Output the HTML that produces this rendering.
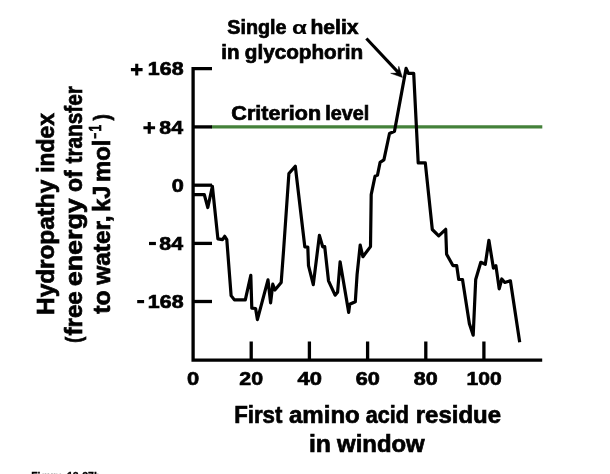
<!DOCTYPE html>
<html>
<head>
<meta charset="utf-8">
<title>Hydropathy plot</title>
<style>
html,body{margin:0;padding:0;background:#fff;}
body{width:610px;height:474px;overflow:hidden;font-family:"Liberation Sans",sans-serif;}
svg{display:block;}
text{font-family:"Liberation Sans",sans-serif;font-weight:bold;fill:#000;}
.reg{font-weight:normal;}
</style>
</head>
<body>
<svg width="610" height="474" viewBox="0 0 610 474">
<rect x="0" y="0" width="610" height="474" fill="#ffffff"/>

<!-- criterion line -->
<line x1="211.5" y1="126.9" x2="542.3" y2="126.9" stroke="#44813a" stroke-width="3.4"/>

<!-- axes -->
<path d="M212,68.7 H193.1 V360.2 H542.2" fill="none" stroke="#000" stroke-width="3.3" stroke-linejoin="miter"/>
<!-- y ticks -->
<g stroke="#000" stroke-width="3.3">
<line x1="193" y1="126.9" x2="212" y2="126.9"/>
<line x1="193" y1="185.2" x2="212" y2="185.2"/>
<line x1="193" y1="243.4" x2="212" y2="243.4"/>
<line x1="193" y1="301.5" x2="212" y2="301.5"/>
<!-- x ticks -->
<line x1="251.2" y1="341.5" x2="251.2" y2="360"/>
<line x1="309.4" y1="341.5" x2="309.4" y2="360"/>
<line x1="367.6" y1="341.5" x2="367.6" y2="360"/>
<line x1="425.8" y1="341.5" x2="425.8" y2="360"/>
<line x1="483.9" y1="341.5" x2="483.9" y2="360"/>
</g>

<!-- data curve -->
<polyline fill="none" stroke="#000" stroke-width="3.2" stroke-linejoin="round" stroke-linecap="butt" points="
193,194.6 204.3,194.6 207.8,207.5 212.4,186.3 217.9,238.9 222.5,239.6 224.7,236.3 226.8,239.6
231.1,295.6 234.4,299.9 245.3,299.9 250.8,275.3 251.8,308.2 255.6,308.5 257.4,319.6 268,279.9
270.6,302.8 272.8,284.2 274.9,290 281.2,282.4 283.6,250 288.9,173.5 295.3,166.2 304.8,246.8
307.8,247.1 308.5,265.6 313.3,284.6 319.4,235.4 322.7,246.8 324.7,246.5 328.5,280.8 335.1,295.2
337.6,292.2 340.1,261.8 348.7,312.4 349.7,304.3 355.3,301.8 357.1,274.4 360.2,245 362.9,256.7
370.5,246.6 371.2,194.6 375,176.3 377.5,175.1 380.1,162.4 383.9,159.9 389.5,133.5 394.5,131.2
406.1,68.4 408.4,73.4 413.7,73.4 418.2,162.9 425.3,162.9 432.3,229.5 438.7,235.8 445.7,229.3
446.6,254.2 452.9,265.6 456.7,265.6 458.7,279.5 462.5,279.5 469.4,323.8 473.2,335.2 475.7,279.5
480.8,262.3 485.3,264.3 488.9,240.3 493.4,268.1 495.9,265.6 499.2,288.9 501.8,279 504.8,282.5
510.4,280.8 519.7,342.2"/>

<!-- arrow -->
<line x1="366.4" y1="38.5" x2="398.9" y2="73.1" stroke="#000" stroke-width="3.1"/>
<path d="M402.4,77.4 L390.7,73.3 Q395.6,73.5 397.6,72.6 Q398.3,70.4 398.8,66.3 Z" fill="#000" stroke="#000" stroke-width="0.5" stroke-linejoin="round"/>

<g style="opacity:0.999">
<text transform="translate(227.36,34.00) scale(0.9972,1)" font-size="19.8" font-weight="bold" fill="#000" stroke="#000" stroke-width="0.7">Single</text>
<text transform="translate(292.06,34.00) scale(1.3570,1)" font-size="18" font-weight="normal" fill="#000" stroke="#000" stroke-width="0.15">α</text>
<text transform="translate(310.40,34.00) scale(1.0664,1)" font-size="19.8" font-weight="bold" fill="#000" stroke="#000" stroke-width="0.7">helix</text>
<text transform="translate(221.22,59.20) scale(1.0383,1)" font-size="19.8" font-weight="bold" fill="#000" stroke="#000" stroke-width="0.7">in</text>
<text transform="translate(244.74,59.20) scale(1.0462,1)" font-size="19.8" font-weight="bold" fill="#000" stroke="#000" stroke-width="0.7">glycophorin</text>
<text transform="translate(231.32,120.30) scale(1.0882,1)" font-size="19.8" font-weight="bold" fill="#000" stroke="#000" stroke-width="0.7">Criterion</text>
<text transform="translate(325.16,120.30) scale(1.0004,1)" font-size="19.8" font-weight="bold" fill="#000" stroke="#000" stroke-width="0.7">level</text>
<path d="M130.90,68.05H135.20V63.75H138.30V68.05H142.60V71.15H138.30V75.45H135.20V71.15H130.90Z" fill="#000"/>
<text transform="translate(147.85,75.40) scale(1.1151,1)" font-size="19.2" font-weight="bold" fill="#000" stroke="#000" stroke-width="0.7">168</text>
<path d="M143.40,126.25H147.70V121.95H150.80V126.25H155.10V129.35H150.80V133.65H147.70V129.35H143.40Z" fill="#000"/>
<text transform="translate(159.30,133.60) scale(1.1131,1)" font-size="19.2" font-weight="bold" fill="#000" stroke="#000" stroke-width="0.7">84</text>
<text transform="translate(171.73,191.90) scale(1.1303,1)" font-size="19.2" font-weight="bold" fill="#000" stroke="#000" stroke-width="0.7">0</text>
<rect x="149.00" y="241.90" width="6.90" height="3.20" fill="#000"/>
<text transform="translate(159.30,250.10) scale(1.1131,1)" font-size="19.2" font-weight="bold" fill="#000" stroke="#000" stroke-width="0.7">84</text>
<rect x="137.20" y="300.00" width="6.90" height="3.20" fill="#000"/>
<text transform="translate(147.85,308.20) scale(1.1151,1)" font-size="19.2" font-weight="bold" fill="#000" stroke="#000" stroke-width="0.7">168</text>
<text transform="translate(186.92,385.40) scale(1.1405,1)" font-size="19.2" font-weight="bold" fill="#000" stroke="#000" stroke-width="0.7">0</text>
<text transform="translate(239.34,385.40) scale(1.1132,1)" font-size="19.2" font-weight="bold" fill="#000" stroke="#000" stroke-width="0.7">20</text>
<text transform="translate(297.57,385.40) scale(1.1405,1)" font-size="19.2" font-weight="bold" fill="#000" stroke="#000" stroke-width="0.7">40</text>
<text transform="translate(355.68,385.40) scale(1.1304,1)" font-size="19.2" font-weight="bold" fill="#000" stroke="#000" stroke-width="0.7">60</text>
<text transform="translate(413.79,385.40) scale(1.1203,1)" font-size="19.2" font-weight="bold" fill="#000" stroke="#000" stroke-width="0.7">80</text>
<text transform="translate(466.57,385.40) scale(1.0960,1)" font-size="19.2" font-weight="bold" fill="#000" stroke="#000" stroke-width="0.7">100</text>
<text transform="translate(234.13,423.30) scale(0.9506,1)" font-size="23.4" font-weight="bold" fill="#000" stroke="#000" stroke-width="0.7">First</text>
<text transform="translate(288.94,423.30) scale(1.0289,1)" font-size="23.4" font-weight="bold" fill="#000" stroke="#000" stroke-width="0.7">amino</text>
<text transform="translate(365.78,423.30) scale(0.9232,1)" font-size="23.4" font-weight="bold" fill="#000" stroke="#000" stroke-width="0.7">acid</text>
<text transform="translate(415.80,423.30) scale(1.0244,1)" font-size="23.4" font-weight="bold" fill="#000" stroke="#000" stroke-width="0.7">residue</text>
<text transform="translate(308.94,452.00) scale(1.0583,1)" font-size="23.4" font-weight="bold" fill="#000" stroke="#000" stroke-width="0.7">in</text>
<text transform="translate(337.12,452.00) scale(1.0210,1)" font-size="23.4" font-weight="bold" fill="#000" stroke="#000" stroke-width="0.7">window</text>
<text transform="translate(53.70,314.88) rotate(-90) scale(1.0222,1)" font-size="23.8" font-weight="bold" fill="#000" stroke="#000" stroke-width="0.7">Hydropathy</text>
<text transform="translate(53.70,172.76) rotate(-90) scale(0.9594,1)" font-size="23.8" font-weight="bold" fill="#000" stroke="#000" stroke-width="0.7">index</text>
<text transform="translate(80.50,342.81) rotate(-90) scale(0.8163,1)" font-size="22" font-weight="bold" fill="#000" stroke="#000" stroke-width="0.7">(</text>
<text transform="translate(82.40,335.47) rotate(-90) scale(1.0110,1)" font-size="23.8" font-weight="bold" fill="#000" stroke="#000" stroke-width="0.7">free</text>
<text transform="translate(82.40,286.18) rotate(-90) scale(1.1271,1)" font-size="23.8" font-weight="bold" fill="#000" stroke="#000" stroke-width="0.7">energy</text>
<text transform="translate(82.40,192.08) rotate(-90) scale(0.9668,1)" font-size="23.8" font-weight="bold" fill="#000" stroke="#000" stroke-width="0.7">of</text>
<text transform="translate(82.40,163.45) rotate(-90) scale(0.8737,1)" font-size="23.8" font-weight="bold" fill="#000" stroke="#000" stroke-width="0.7">transfer</text>
<text transform="translate(110.10,313.85) rotate(-90) scale(1.0437,1)" font-size="23.8" font-weight="bold" fill="#000" stroke="#000" stroke-width="0.7">to</text>
<text transform="translate(110.10,284.78) rotate(-90) scale(1.0266,1)" font-size="23.8" font-weight="bold" fill="#000" stroke="#000" stroke-width="0.7">water,</text>
<text transform="translate(110.10,211.69) rotate(-90) scale(0.9813,1)" font-size="23.8" font-weight="bold" fill="#000" stroke="#000" stroke-width="0.7">kJ</text>
<text transform="translate(110.10,181.89) rotate(-90) scale(0.9977,1)" font-size="23.8" font-weight="bold" fill="#000" stroke="#000" stroke-width="0.7">mol</text>
<text transform="translate(99.80,138.80) rotate(-90) scale(0.6829,1)" font-size="15" font-weight="bold" fill="#000" stroke="#000" stroke-width="0.7">−</text>
<text transform="translate(101.20,131.49) rotate(-90) scale(0.7206,1)" font-size="16.4" font-weight="bold" fill="#000" stroke="#000" stroke-width="0.7">1</text>
<text transform="translate(109.40,120.55) rotate(-90) scale(0.8429,1)" font-size="22.5" font-weight="bold" fill="#000" stroke="#000" stroke-width="0.7">)</text>
<text transform="translate(31.24,479.60) scale(0.9511,1)" font-size="11" font-weight="bold" fill="#000" stroke="#000" stroke-width="0.3">Figure</text>
<text transform="translate(66.98,479.60) scale(0.9613,1)" font-size="11" font-weight="bold" fill="#000" stroke="#000" stroke-width="0.3">12-27b</text>
</g>
</svg>
</body>
</html>
